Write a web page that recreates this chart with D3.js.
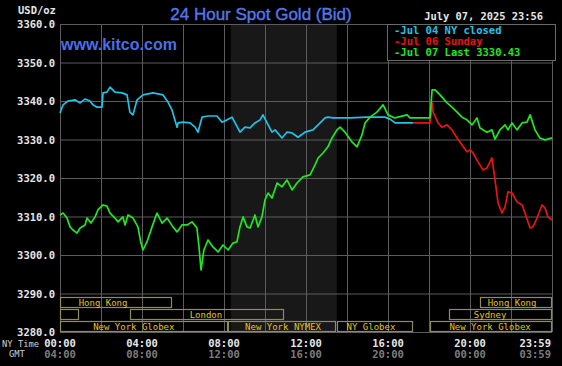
<!DOCTYPE html>
<html>
<head>
<meta charset="utf-8">
<script src="https://cdn.jsdelivr.net/npm/d3@7"></script>
<style>
  body { margin: 0; background: #000; }
  svg { display: block; }
</style>
</head>
<body>
<div id="chart"></div>
<script>
// hours since 00:00 NY time, bid price
var jul04Hours = [0, 0.15, 0.39, 0.73, 0.98, 1.22, 1.46, 1.61, 1.80, 2.05, 2.10, 2.29, 2.44, 2.68, 3.02, 3.27, 3.41, 3.56, 3.76, 4.05, 4.54, 5.02, 5.27, 5.46, 5.71, 5.76, 6.00, 6.34, 6.59, 6.73, 6.93, 7.22, 7.66, 7.90, 8.15, 8.39, 8.54, 8.78, 9.02, 9.27, 9.51, 9.76, 9.90, 10.10, 10.34, 10.49, 10.83, 11.07, 11.32, 11.61, 11.95, 12.34, 12.59, 12.93, 13.07, 13.32, 14.15, 14.98, 15.61, 15.85, 16.10, 16.34, 17.22];
var jul04Price = [3336.9, 3339.0, 3340.0, 3340.3, 3339.5, 3340.5, 3340.0, 3339.0, 3338.4, 3338.4, 3342.1, 3342.3, 3343.6, 3342.3, 3342.1, 3341.6, 3337.1, 3336.4, 3340.3, 3341.6, 3342.1, 3341.6, 3339.7, 3337.7, 3333.2, 3334.3, 3334.5, 3334.3, 3333.2, 3331.9, 3335.8, 3336.1, 3336.1, 3334.5, 3335.1, 3335.8, 3334.3, 3331.9, 3333.2, 3333.0, 3334.3, 3335.1, 3336.4, 3334.3, 3331.9, 3332.5, 3330.4, 3331.9, 3331.7, 3330.6, 3331.9, 3332.5, 3333.8, 3335.6, 3335.8, 3335.6, 3335.6, 3335.8, 3335.8, 3335.8, 3335.3, 3334.3, 3334.3];

var jul06Hours = [17.22, 18.05, 18.15, 18.20, 18.44, 18.63, 18.88, 19.12, 19.37, 19.61, 19.85, 20.00, 20.15, 20.39, 20.63, 20.83, 21.07, 21.22, 21.37, 21.56, 21.71, 21.85, 22.05, 22.29, 22.54, 22.68, 22.93, 23.07, 23.27, 23.51, 23.66, 23.80, 24];
var jul06Price = [3334.3, 3334.3, 3339.5, 3337.1, 3334.3, 3333.2, 3333.8, 3332.5, 3330.4, 3328.6, 3326.8, 3327.3, 3326.5, 3324.2, 3322.1, 3322.6, 3325.2, 3319.5, 3313.5, 3310.9, 3312.5, 3316.4, 3316.1, 3313.8, 3313.0, 3310.9, 3307.0, 3307.3, 3309.6, 3313.0, 3312.2, 3309.9, 3309.1];

var jul07Hours = [0, 0.15, 0.34, 0.49, 0.63, 0.83, 0.98, 1.22, 1.32, 1.51, 1.71, 1.85, 2.10, 2.29, 2.44, 2.68, 2.83, 3.07, 3.17, 3.32, 3.56, 3.80, 3.95, 4.05, 4.24, 4.49, 4.73, 4.98, 5.22, 5.51, 5.71, 5.95, 6.20, 6.44, 6.68, 6.78, 6.88, 7.02, 7.22, 7.46, 7.71, 7.95, 8.20, 8.44, 8.63, 8.78, 8.93, 9.12, 9.27, 9.51, 9.66, 9.85, 10.00, 10.15, 10.34, 10.59, 10.83, 11.07, 11.32, 11.56, 11.85, 12.20, 12.44, 12.59, 12.83, 13.07, 13.27, 13.51, 13.66, 13.90, 14.24, 14.49, 14.73, 14.88, 15.12, 15.46, 15.76, 16.00, 16.34, 16.93, 17.07, 18.05, 18.15, 18.29, 18.54, 18.88, 19.12, 19.37, 19.61, 19.85, 20.10, 20.34, 20.49, 20.83, 21.07, 21.22, 21.46, 21.71, 21.85, 22.05, 22.29, 22.54, 22.78, 22.93, 23.17, 23.41, 23.66, 24];
var jul07Price = [3310.4, 3310.9, 3309.6, 3307.3, 3306.5, 3305.7, 3307.0, 3307.8, 3309.6, 3308.3, 3309.9, 3311.7, 3313.0, 3312.7, 3310.9, 3309.6, 3308.6, 3309.9, 3307.8, 3310.4, 3309.6, 3307.3, 3303.1, 3301.3, 3303.4, 3307.3, 3310.9, 3308.3, 3309.6, 3307.3, 3306.0, 3307.8, 3307.8, 3308.6, 3307.0, 3302.1, 3296.1, 3301.3, 3303.9, 3302.1, 3300.8, 3302.6, 3301.3, 3303.1, 3303.4, 3307.3, 3309.9, 3307.3, 3307.0, 3310.4, 3307.3, 3309.9, 3314.3, 3316.1, 3314.8, 3318.7, 3317.7, 3319.5, 3316.9, 3318.7, 3320.3, 3320.8, 3323.4, 3325.2, 3326.5, 3328.1, 3330.4, 3332.5, 3333.2, 3331.9, 3329.4, 3328.1, 3331.2, 3334.3, 3335.8, 3337.1, 3339.0, 3336.4, 3335.6, 3336.4, 3335.6, 3335.6, 3342.9, 3342.9, 3341.6, 3339.5, 3338.4, 3337.1, 3335.8, 3335.1, 3333.8, 3335.6, 3333.0, 3331.9, 3332.5, 3330.1, 3332.5, 3333.8, 3332.5, 3334.3, 3332.5, 3334.3, 3334.5, 3336.4, 3332.5, 3330.4, 3329.9, 3330.43];

var priceTicks = [3280, 3290, 3300, 3310, 3320, 3330, 3340, 3350, 3360];
var gridHours = [0, 2, 4, 6, 8, 10, 12, 14, 16, 18, 20, 22, 24];
var tickHours = [0, 4, 8, 12, 16, 20, 24];
var nyLabels = ["00:00", "04:00", "08:00", "12:00", "16:00", "20:00", "23:59"];
var gmtLabels = ["04:00", "08:00", "12:00", "16:00", "20:00", "00:00", "03:59"];

var nymexOpen = [8.33, 13.5];

// market sessions: row, start hour, end hour, name, label centre hour
var sessionRow = [0, 0, 1, 1, 1, 2, 2, 2, 2];
var sessionStart = [0, 20.49, 0, 3.41, 18.98, 0, 8.2, 13.5, 18.05];
var sessionEnd = [5.46, 24, 0.93, 10.93, 24, 8.2, 13.46, 17.2, 24];
var sessionName = ["Hong Kong", "Hong Kong", "", "London", "Sydney", "New York Globex", "New York NYMEX", "NY Globex", "New York Globex"];
var sessionLabelAt = [2.1, 22.05, 0, 7.12, 20.98, 3.6, 10.88, 15.17, 20.98];

var legendText = ["-Jul 04 NY closed", "-Jul 06 Sunday", "-Jul 07 Last 3330.43"];
var colors = ["#22c2e6", "#e81414", "#22e622"];

var W = 562, H = 366;
var svg = d3.select("#chart").append("svg")
    .attr("width", W)
    .attr("height", H)
    .style("background", "#000");

var x = d3.scaleLinear().domain([0, 24]).range([60, 552]);
var y = d3.scaleLinear().domain([3280, 3360]).range([332, 24]);

var mono = "'DejaVu Sans Mono', 'Liberation Mono', monospace";

// NYMEX shade
svg.append("rect")
    .attr("x", x(nymexOpen[0]))
    .attr("y", y(3360))
    .attr("width", x(nymexOpen[1]) - x(nymexOpen[0]))
    .attr("height", y(3280) - y(3360))
    .style("fill", "#181818");

// grid
svg.selectAll(".hgrid")
    .data(priceTicks)
    .enter().append("line")
    .attr("class", "hgrid")
    .attr("x1", x(0)).attr("x2", x(24))
    .attr("y1", function (d) { return y(d) + 0.5; })
    .attr("y2", function (d) { return y(d) + 0.5; })
    .style("stroke", "#5c5c5c")
    .style("stroke-width", 1);

svg.selectAll(".vgrid")
    .data(gridHours)
    .enter().append("line")
    .attr("class", "vgrid")
    .attr("x1", function (d) { return Math.round(x(d)) + 0.5; })
    .attr("x2", function (d) { return Math.round(x(d)) + 0.5; })
    .attr("y1", y(3360)).attr("y2", y(3280))
    .style("stroke", "#5c5c5c")
    .style("stroke-width", 1);

// y labels
svg.selectAll(".ylab")
    .data(priceTicks)
    .enter().append("text")
    .attr("class", "ylab")
    .attr("x", 55)
    .attr("y", function (d) { return y(d) + 4; })
    .text(function (d) { return d.toFixed(1); })
    .style("text-anchor", "end")
    .style("font-family", mono)
    .style("font-weight", "bold")
    .style("font-size", "10.5px")
    .style("fill", "#e6e6e6");

svg.append("text")
    .attr("x", 18).attr("y", 14)
    .text("USD/oz")
    .style("font-family", mono)
    .style("font-weight", "bold")
    .style("font-size", "10.5px")
    .style("fill", "#e6e6e6");

// market sessions
var rowTop = [297, 309, 321];
var sess = svg.selectAll(".sess")
    .data(sessionName)
    .enter().append("g")
    .attr("class", "sess");

sess.append("rect")
    .attr("x", function (d, i) { return Math.round(x(sessionStart[i])) + 0.5; })
    .attr("y", function (d, i) { return rowTop[sessionRow[i]] + 0.5; })
    .attr("width", function (d, i) { return Math.round(x(sessionEnd[i]) - x(sessionStart[i])) - 1; })
    .attr("height", 10)
    .style("fill", "none")
    .style("stroke", "#8e8c5c")
    .style("stroke-width", 1.2);

sess.append("text")
    .attr("x", function (d, i) { return x(sessionLabelAt[i]); })
    .attr("y", function (d, i) { return rowTop[sessionRow[i]] + 9; })
    .text(function (d) { return d; })
    .style("text-anchor", "middle")
    .style("font-family", mono)
    .style("font-size", "9px")
    .style("fill", "#e2c41e");

// price lines
var line = d3.line()
    .x(function (d) { return x(d[0]); })
    .y(function (d) { return y(d[1]); });

var series = [
    d3.zip(jul04Hours, jul04Price),
    d3.zip(jul06Hours, jul06Price),
    d3.zip(jul07Hours, jul07Price)
];

svg.selectAll(".price")
    .data(series)
    .enter().append("path")
    .attr("class", "price")
    .attr("d", line)
    .style("fill", "none")
    .style("stroke", function (d, i) { return colors[i]; })
    .style("stroke-width", 1.7)
    .style("stroke-linejoin", "round");

// titles
svg.append("text")
    .attr("x", 261).attr("y", 20)
    .text("24 Hour Spot Gold (Bid)")
    .style("text-anchor", "middle")
    .style("font-family", "'Liberation Sans', Arial, sans-serif")
    .style("font-size", "17px")
    .style("fill", "#5577e6")
    .style("stroke", "#5577e6")
    .style("stroke-width", 0.4);

svg.append("text")
    .attr("x", 61).attr("y", 50)
    .text("www.kitco.com")
    .style("font-family", "'Liberation Sans', Arial, sans-serif")
    .style("font-weight", "bold")
    .style("font-size", "16px")
    .style("fill", "#4a6ee8");

svg.append("text")
    .attr("x", 543).attr("y", 20)
    .text("July 07, 2025 23:56")
    .style("text-anchor", "end")
    .style("font-family", mono)
    .style("font-weight", "bold")
    .style("font-size", "10.4px")
    .style("fill", "#e6e6e6");

// legend
svg.append("rect")
    .attr("x", 387.5).attr("y", 24.5)
    .attr("width", 168).attr("height", 36)
    .style("fill", "#000")
    .style("stroke", "#6a6a6a");

svg.selectAll(".legend")
    .data(legendText)
    .enter().append("text")
    .attr("class", "legend")
    .attr("x", 394)
    .attr("y", function (d, i) { return 34 + i * 11; })
    .text(function (d) { return d; })
    .style("font-family", mono)
    .style("font-weight", "bold")
    .style("font-size", "10.5px")
    .style("fill", function (d, i) { return colors[i]; });

// time axis labels
svg.selectAll(".nyt")
    .data(tickHours)
    .enter().append("text")
    .attr("class", "nyt")
    .attr("x", function (d) { return x(d) - (d === 24 ? 1 : 0); })
    .attr("y", 347)
    .text(function (d, i) { return nyLabels[i]; })
    .style("text-anchor", function (d) { return d === 24 ? "end" : "middle"; })
    .style("font-family", mono)
    .style("font-weight", "bold")
    .style("font-size", "10.5px")
    .style("fill", "#e6e6e6");

svg.selectAll(".gmt")
    .data(tickHours)
    .enter().append("text")
    .attr("class", "gmt")
    .attr("x", function (d) { return x(d) - (d === 24 ? 1 : 0); })
    .attr("y", 358)
    .text(function (d, i) { return gmtLabels[i]; })
    .style("text-anchor", function (d) { return d === 24 ? "end" : "middle"; })
    .style("font-family", mono)
    .style("font-weight", "bold")
    .style("font-size", "10.5px")
    .style("fill", "#7c7c7c");

svg.append("text")
    .attr("x", 2).attr("y", 347)
    .text("NY Time")
    .style("font-family", mono)
    .style("font-size", "8.8px")
    .style("fill", "#d0d0d0");

svg.append("text")
    .attr("x", 9).attr("y", 357)
    .text("GMT")
    .style("font-family", mono)
    .style("font-size", "8.8px")
    .style("fill", "#d0d0d0");
</script>
</body>
</html>
